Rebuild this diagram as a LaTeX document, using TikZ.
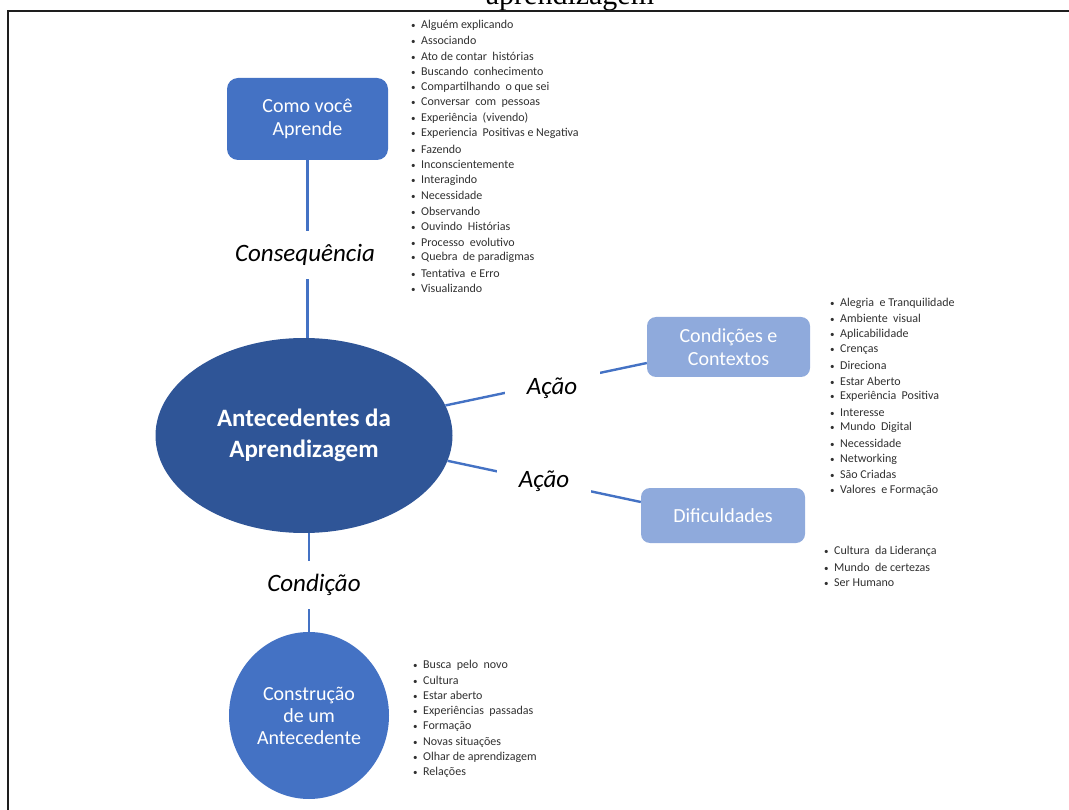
\documentclass[tikz,border=0pt]{standalone}
\usepackage{fontspec}
\setmainfont{Carlito}
\newfontfamily\titlefont{Liberation Serif}
\usetikzlibrary{shapes.geometric}
\definecolor{midblue}{HTML}{4472C4}
\definecolor{darkblue}{HTML}{2F5597}
\definecolor{lightblue}{HTML}{8FAADC}
\definecolor{linkblue}{HTML}{4472C4}
\definecolor{itemgray}{HTML}{303030}
\definecolor{framegray}{HTML}{1E1E1E}
\newcommand{\itemdot}{{\fontsize{9}{9}\selectfont\textbullet}\hspace{5.5pt}}

\begin{document}
\begin{tikzpicture}[x=1pt,y=-1pt,
  boxtext/.style={text=white, align=center, inner sep=0pt,
    font=\fontsize{20}{23}\selectfont},
  darkbox/.style={boxtext, fill=midblue, rounded corners=11pt},
  lightbox/.style={boxtext, fill=lightblue, rounded corners=9pt},
  link/.style={draw=linkblue, line width=2.4pt},
  lab/.style={fill=white, inner sep=0pt, font=\itshape\fontsize{25}{28}\selectfont},
  item/.style={anchor=west, inner sep=0pt, text=itemgray,
    font=\fontsize{12}{13}\selectfont},
]
\useasboundingbox (0,0) rectangle (1069,810);
\clip (0,0) rectangle (1069,810);

% heading cut by the top edge, and the frame
\node[anchor=base, inner sep=0pt, font=\titlefont\fontsize{30}{30}\selectfont]
  (title) at (570,5) {aprendizagem};
\draw[framegray, line width=2pt] (1069,11) -- (8,11) -- (8,810);

% main nodes
\node[ellipse, fill=darkblue, text=white, align=center, inner sep=0pt,
  minimum width=297pt, minimum height=195pt,
  font=\bfseries\fontsize{25}{31}\selectfont]
  (ante) at (304,435.5) {Antecedentes da\\Aprendizagem};
\node[darkbox, minimum width=161pt, minimum height=82pt]
  (como) at (307.5,119) {Como você\\Aprende};
\node[lightbox, minimum width=163pt, minimum height=60pt]
  (cond) at (728.5,347) {Condições e\\Contextos};
\node[lightbox, minimum width=164pt, minimum height=55pt]
  (dif) at (723,515.5) {Dificuldades};
\node[ellipse, fill=midblue, text=white, align=center, inner sep=0pt,
  minimum width=160pt, minimum height=167pt,
  font=\fontsize{20}{22}\selectfont]
  (constr) at (309,715.5) {Construção\\de um\\Antecedente};

% connectors
\draw[link] (como.south) -- (como.south |- ante.north);
\draw[link] (constr.north |- ante.south) -- (constr.north);
\draw[link] (ante.12) -- ([yshift=-16pt]cond.west);
\draw[link] (ante.-10) -- ([yshift=13.5pt]dif.west);

% connector labels
\node[lab, minimum width=150pt, minimum height=48pt] (consq) at (305,255) {Consequência};
\node[lab, minimum width=100pt, minimum height=48pt] (condi) at (314,585) {Condição};
\node[lab, minimum width=95pt, minimum height=50pt] (acao1) at (552,388) {Ação};
\node[lab, minimum width=94pt, minimum height=49pt] (acao2) at (544,481) {Ação};

% bullet lists
\foreach \t [count=\i] in {Alguém explicando, Associando, Ato de contar\ \ histórias,
  Buscando\ \ conhecimento, Compartilhando\ \ o que sei, Conversar\ \ com\ \ pessoas,
  Experiência\ \ (vivendo), Experiencia\ \ Positivas e Negativa, Fazendo,
  Inconscientemente, Interagindo, Necessidade, Observando, Ouvindo\ \ Histórias,
  Processo\ \ evolutivo, Quebra\ \ de paradigmas, Tentativa\ \ e Erro, Visualizando}
  \node[item] (la\i) at (411,25+15.5*\i-15.5) {\itemdot\t};

\foreach \t [count=\i] in {Alegria\ \ e Tranquilidade, Ambiente\ \ visual, Aplicabilidade,
  Crenças, Direciona, Estar Aberto, Experiência\ \ Positiva, Interesse,
  Mundo\ \ Digital, Necessidade, Networking, São Criadas, Valores\ \ e Formação}
  \node[item] (lb\i) at (830,303+15.6*\i-15.6) {\itemdot\t};

\foreach \t [count=\i] in {Cultura\ \ da Liderança, Mundo\ \ de certezas, Ser Humano}
  \node[item] (lc\i) at (824,551+16*\i-16) {\itemdot\t};

\foreach \t [count=\i] in {Busca\ \ pelo\ \ novo, Cultura, Estar aberto,
  Experiências\ \ passadas, Formação, Novas situações, Olhar de aprendizagem, Relações}
  \node[item] (ld\i) at (413,665+15.4*\i-15.4) {\itemdot\t};
\end{tikzpicture}
\end{document}
